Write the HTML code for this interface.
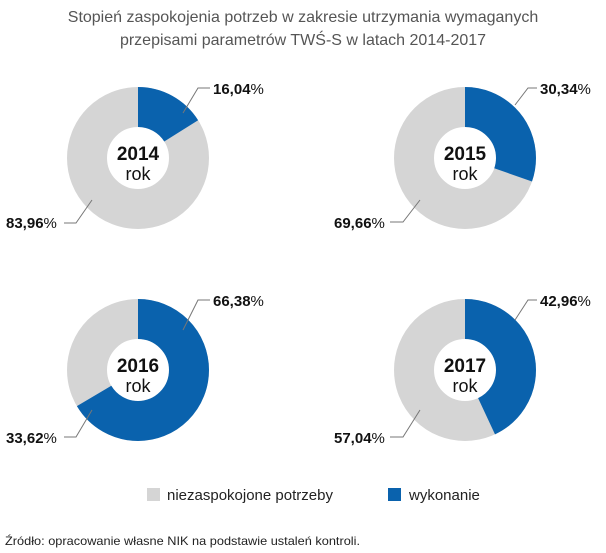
<!DOCTYPE html>
<html><head><meta charset="utf-8"><style>
body{margin:0;background:#fff}
svg{display:block}
text{font-family:"Liberation Sans",sans-serif}
</style></head><body>
<svg width="606" height="553" viewBox="0 0 606 553">
<rect width="606" height="553" fill="#fff"/>
<text x="303" y="22" text-anchor="middle" font-size="16" fill="#555">Stopień zaspokojenia potrzeb w zakresie utrzymania wymaganych</text>
<text x="303" y="45" text-anchor="middle" font-size="16" fill="#555">przepisami parametrów TWŚ-S w latach  2014-2017</text>
<g fill="none" stroke-width="40">
<circle cx="138" cy="158" r="51" stroke="#d5d5d5"/>
<circle cx="138" cy="158" r="51" stroke="#0a62ad" stroke-dasharray="51.4 400" transform="rotate(-90 138 158)"/>
<circle cx="465" cy="158" r="51" stroke="#d5d5d5"/>
<circle cx="465" cy="158" r="51" stroke="#0a62ad" stroke-dasharray="97.2 400" transform="rotate(-90 465 158)"/>
<circle cx="138" cy="370" r="51" stroke="#d5d5d5"/>
<circle cx="138" cy="370" r="51" stroke="#0a62ad" stroke-dasharray="212.7 400" transform="rotate(-90 138 370)"/>
<circle cx="465" cy="370" r="51" stroke="#d5d5d5"/>
<circle cx="465" cy="370" r="51" stroke="#0a62ad" stroke-dasharray="137.7 400" transform="rotate(-90 465 370)"/>
</g>
<g text-anchor="middle" fill="#111">
<text x="138" y="160" font-size="19" font-weight="bold">2014</text><text x="138" y="180" font-size="18">rok</text>
<text x="465" y="160" font-size="19" font-weight="bold">2015</text><text x="465" y="180" font-size="18">rok</text>
<text x="138" y="372" font-size="19" font-weight="bold">2016</text><text x="138" y="392" font-size="18">rok</text>
<text x="465" y="372" font-size="19" font-weight="bold">2017</text><text x="465" y="392" font-size="18">rok</text>
</g>
<g stroke="#777" stroke-width="1" fill="none">
<polyline points="183,113 198,88 210,88"/>
<polyline points="92,200 76,223 64,223"/>
<polyline points="515,105 528,88 537,88"/>
<polyline points="420,200 403,222 390,222"/>
<polyline points="183,330 198,300 210,300"/>
<polyline points="92,410 76,437 64,437"/>
<polyline points="515,320 528,300 537,300"/>
<polyline points="420,410 403,437 390,437"/>
</g>
<g font-size="15" fill="#111">
<text x="213" y="94"><tspan font-weight="bold">16,04</tspan>%</text>
<text x="6" y="228"><tspan font-weight="bold">83,96</tspan>%</text>
<text x="540" y="94"><tspan font-weight="bold">30,34</tspan>%</text>
<text x="334" y="228"><tspan font-weight="bold">69,66</tspan>%</text>
<text x="213" y="306"><tspan font-weight="bold">66,38</tspan>%</text>
<text x="6" y="443"><tspan font-weight="bold">33,62</tspan>%</text>
<text x="540" y="306"><tspan font-weight="bold">42,96</tspan>%</text>
<text x="334" y="443"><tspan font-weight="bold">57,04</tspan>%</text>
</g>
<rect x="147" y="488" width="13" height="13" fill="#d5d5d5"/>
<text x="167" y="500" font-size="15" fill="#222">niezaspokojone potrzeby</text>
<rect x="388" y="488" width="13" height="13" fill="#0a62ad"/>
<text x="409" y="500" font-size="15" fill="#222">wykonanie</text>
<text x="5" y="545" font-size="12" fill="#222" textLength="355" lengthAdjust="spacingAndGlyphs">Źródło: opracowanie własne NIK na podstawie ustaleń kontroli.</text>
</svg>
</body></html>
